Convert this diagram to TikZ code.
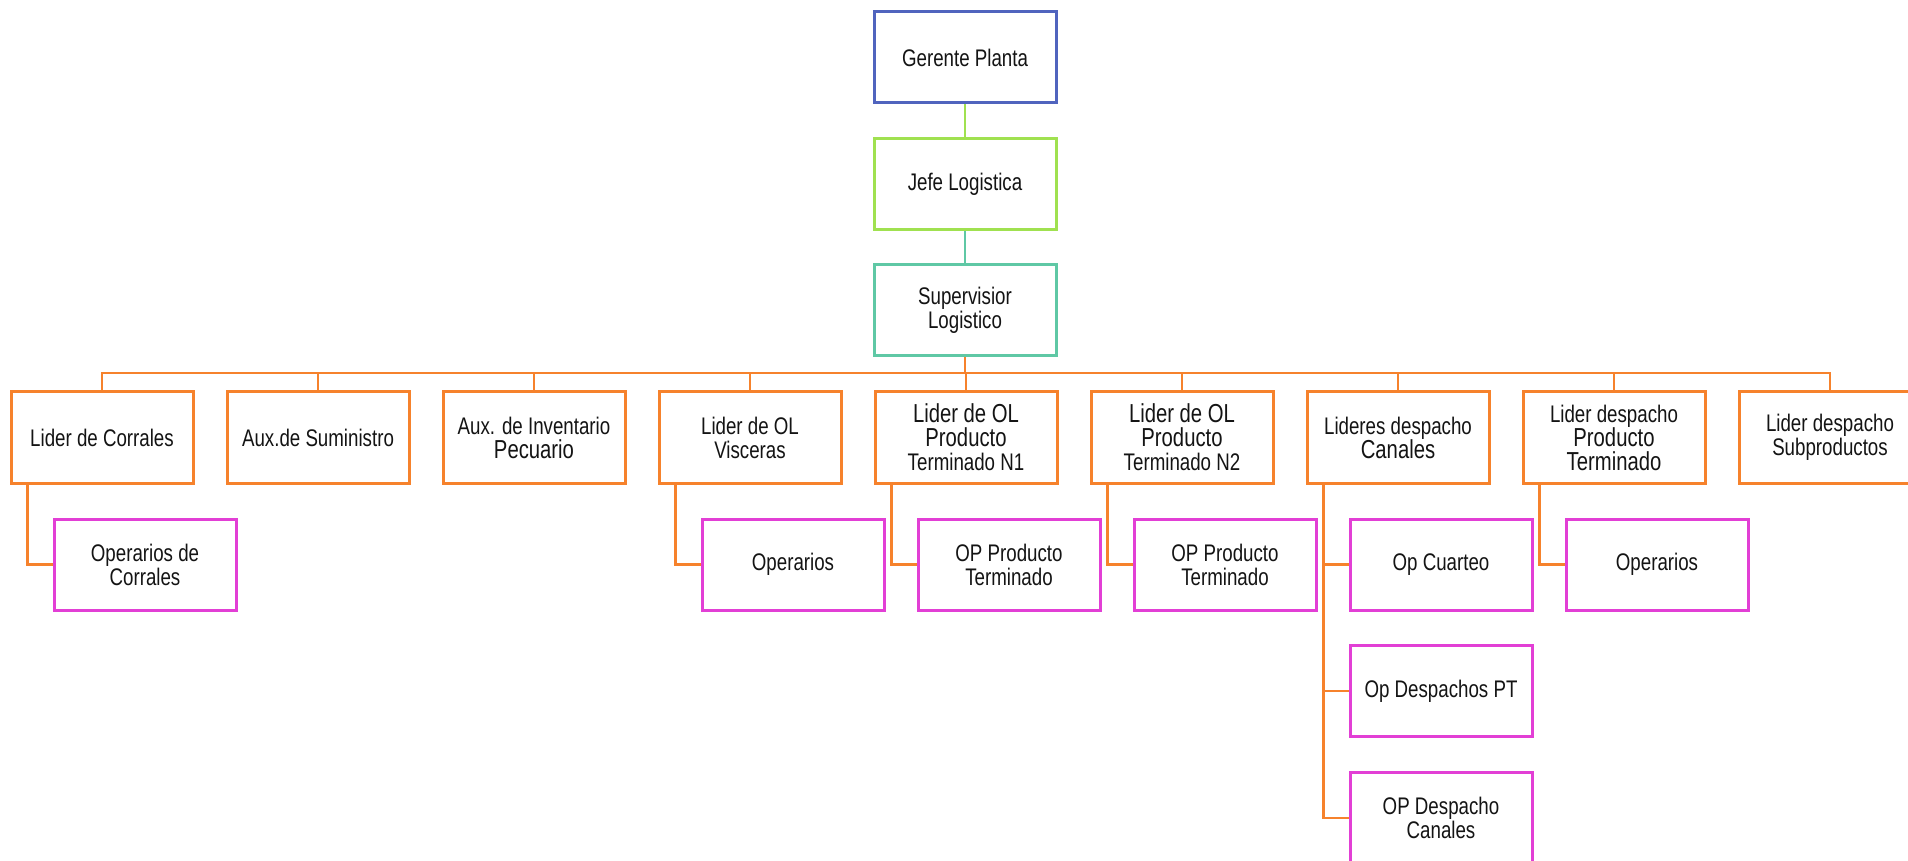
\documentclass[tikz,border=0pt]{standalone}
\usepackage{fontspec}
\setmainfont{Liberation Sans}[FakeStretch=0.78]
\definecolor{topblue}{RGB}{80,100,190}
\definecolor{limeC}{RGB}{160,225,80}
\definecolor{tealC}{RGB}{95,200,165}
\definecolor{orgC}{RGB}{246,130,44}
\definecolor{magC}{RGB}{226,63,213}
\definecolor{inkC}{RGB}{20,20,20}
\newcommand{\lgtxt}[1]{{\fontsize{13pt}{12pt}\selectfont #1}}
\tikzset{
  box/.style={draw, line width=1.5pt, fill=white, inner sep=0pt,
    minimum width=91pt, minimum height=45.5pt, align=center,
    text=inkC, font=\fontsize{12pt}{12pt}\selectfont},
  headbox/.style={box, draw=#1},
  leadbox/.style={box, draw=orgC},
  opbox/.style={box, draw=magC},
  orgline/.style={draw=orgC, line width=1.2pt},
}
\begin{document}
\begin{tikzpicture}[x=0.5pt, y=-0.5pt]
\useasboundingbox (0,0) rectangle (1908,861);
\clip (0,0) rectangle (1908,861);
\fill[white] (0,0) rectangle (1908,861);

% management column
\node[headbox=topblue] (ger) at (965,57.5) {Gerente Planta};
\node[headbox=limeC]   (jefe) at (965,184.5) {Jefe Logistica};
\node[headbox=tealC]   (sup) at (965,310.5) {Supervisior\\Logistico};

% leaders row
\node[leadbox] (r1) at (102,437.5) {Lider de Corrales};
\node[leadbox] (r2) at (318,437.5) {Aux.de Suministro};
\node[leadbox] (r3) at (534,437.5) {Aux. de Inventario\\\lgtxt{Pecuario}};
\node[leadbox] (r4) at (750,437.5) {Lider de OL\\Visceras};
\node[leadbox] (r5) at (966,437.5) {\lgtxt{Lider de OL}\\\lgtxt{Producto}\\Terminado N1};
\node[leadbox] (r6) at (1182,437.5) {\lgtxt{Lider de OL}\\\lgtxt{Producto}\\Terminado N2};
\node[leadbox] (r7) at (1398,437.5) {Lideres despacho\\\lgtxt{Canales}};
\node[leadbox] (r8) at (1614,437.5) {Lider despacho\\\lgtxt{Producto}\\\lgtxt{Terminado}};
\node[leadbox] (r9) at (1830,437.5) {Lider despacho\\Subproductos};

% operators
\node[opbox] (c1) at (145,564.5) {Operarios de\\Corrales};
\node[opbox] (c4) at (793,564.5) {Operarios};
\node[opbox] (c5) at (1009,564.5) {OP Producto\\Terminado};
\node[opbox] (c6) at (1225,564.5) {OP Producto\\Terminado};
\node[opbox] (c7a) at (1441,564.5) {Op Cuarteo};
\node[opbox] (c7b) at (1441,691) {Op Despachos PT};
\node[opbox] (c7c) at (1441,818) {OP Despacho\\Canales};
\node[opbox] (c8) at (1657,564.5) {Operarios};

% connectors
\coordinate (bus) at (965,373);
\draw[limeC, line width=1.2pt] (ger.south) -- (jefe.north);
\draw[tealC, line width=1.2pt] (jefe.south) -- (sup.north);
\foreach \r in {r1,r2,r3,r4,r5,r6,r7,r8,r9}
  \draw[orgline] (sup.south) -- (bus) -| (\r.north);
\draw[orgline] (r1.south west) ++(18,0) |- (c1.west);
\draw[orgline] (r4.south west) ++(18,0) |- (c4.west);
\draw[orgline] (r5.south west) ++(18,0) |- (c5.west);
\draw[orgline] (r6.south west) ++(18,0) |- (c6.west);
\draw[orgline] (r7.south west) ++(18,0) |- (c7a.west);
\draw[orgline] (r7.south west) ++(18,0) |- (c7b.west);
\draw[orgline] (r7.south west) ++(18,0) |- (c7c.west);
\draw[orgline] (r8.south west) ++(18,0) |- (c8.west);
\end{tikzpicture}
\end{document}
